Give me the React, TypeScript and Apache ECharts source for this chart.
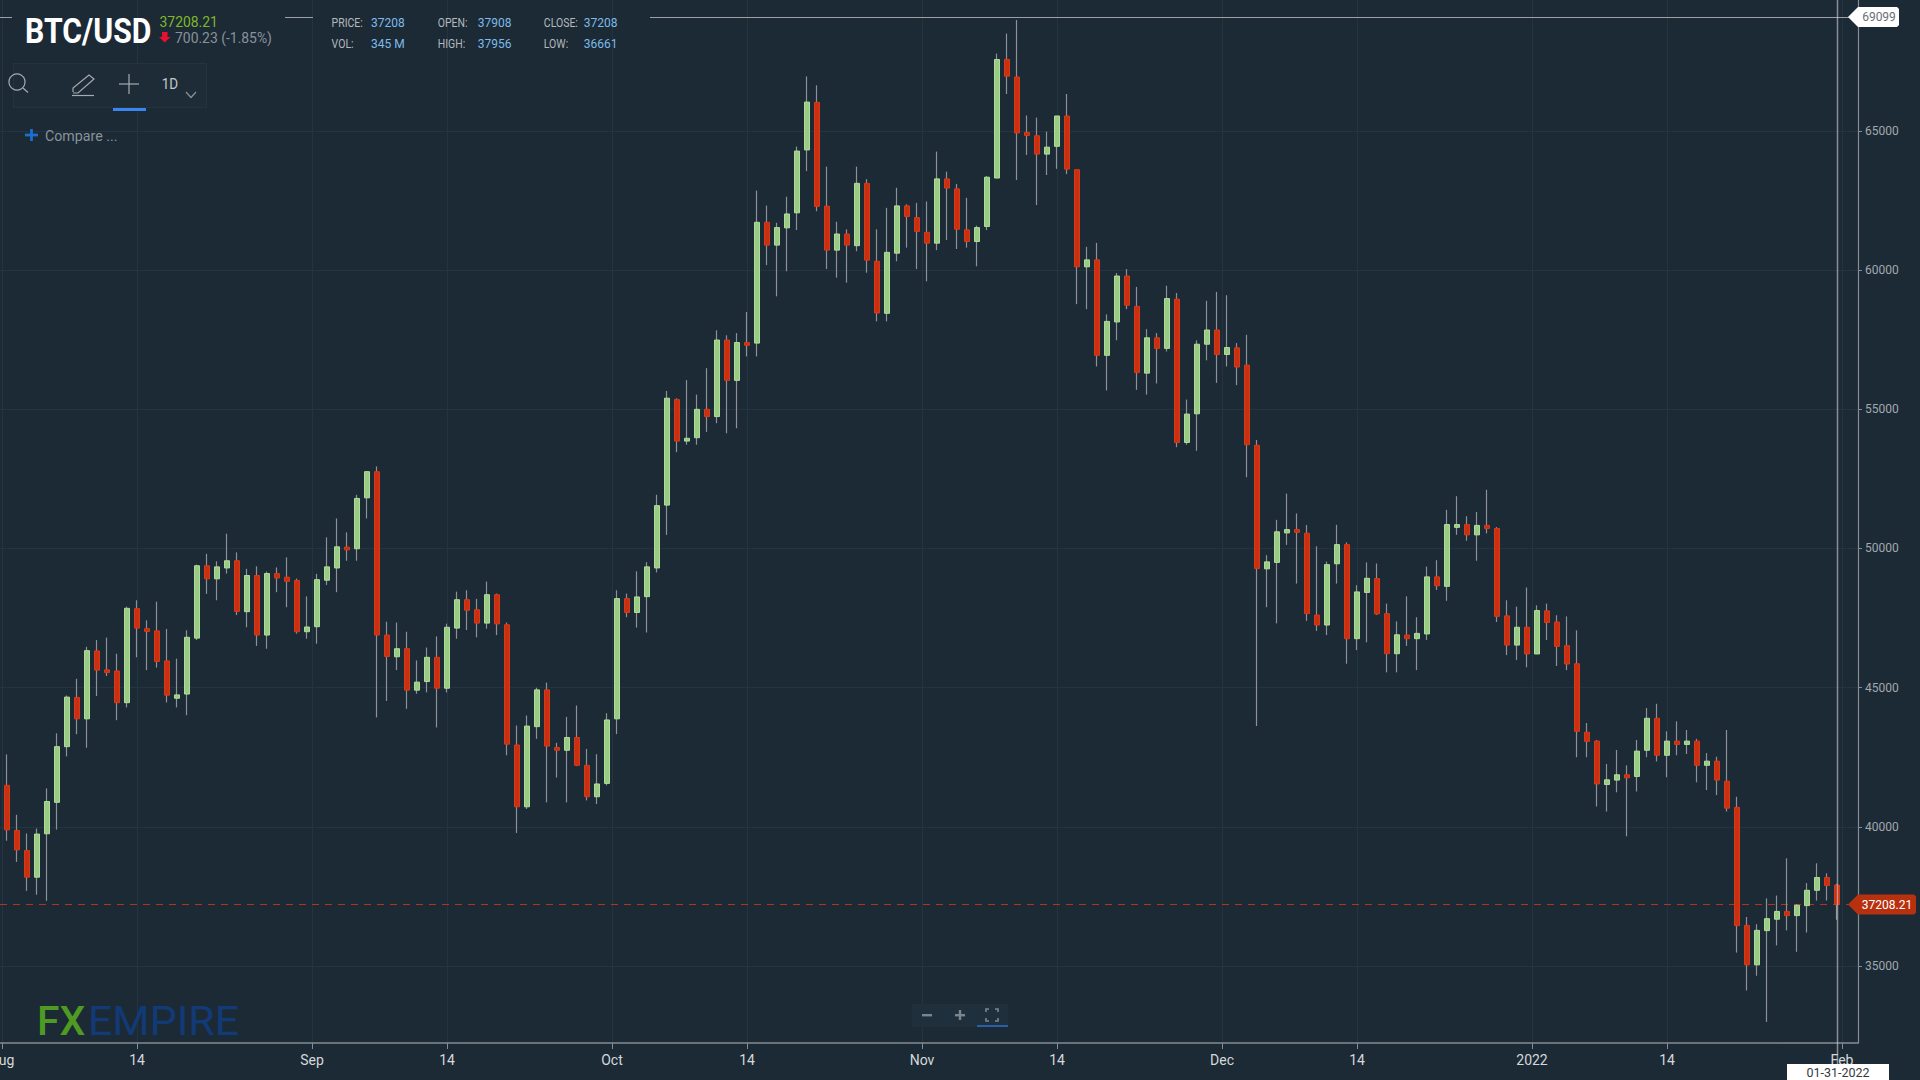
import React, { useEffect, useRef } from "react";
import * as echarts from "echarts";

const opens = [41490,39870,39150,38190,39750,40880,42880,44650,43880,46320,
45640,45600,44460,47840,47120,47040,45960,44620,44770,46780,
49380,48910,49300,49560,47730,49030,46890,49100,48970,48850,
47010,47190,48860,49300,50050,49990,51820,52760,46890,46110,
46400,44910,45220,46090,44980,47140,48160,47800,47320,48340,
47260,42940,40720,43600,44920,42850,42750,43210,42210,41080,
41560,43880,48200,47700,48270,49300,51560,55350,53860,53980,
55000,54740,57490,56040,57400,57380,61720,60900,61520,62060,
64320,66030,62300,60720,61300,60880,63120,60320,58450,60610,
62310,61890,61360,60970,63280,62920,61450,61030,61570,63310,
67570,66940,64950,64830,64170,64450,65540,63610,60120,60370,
56940,58140,59790,58700,56300,57570,57190,58960,53810,54840,
57340,57850,56970,57210,56590,53710,49270,49500,50560,50680,
50550,47610,47250,49450,50140,46760,48420,48920,47660,46220,
46890,46760,46930,48980,48640,50760,50860,50490,50830,50720,
47580,46530,47170,46210,47760,47360,46510,45860,43400,43080,
41520,41680,41870,41810,42750,43900,42570,43080,42960,43080,
42210,42360,41640,40700,36460,35040,36270,36680,36960,36810,
37170,37720,38180,37908];

const closes = [39890,39170,38190,39740,40910,42880,44660,43880,46330,45630,
45540,44460,47850,47140,47020,45940,44730,44740,46810,49380,
48910,49340,49560,47740,49030,46890,49100,48940,48820,47010,
47180,48880,49340,50060,49950,51800,52760,46890,46120,46400,
44910,45200,46090,44980,47170,48160,47780,47320,48340,47290,
42970,40720,43620,44920,42900,42750,43210,42210,41080,41540,
43840,48200,47700,48260,49340,51540,55400,53860,53960,55000,
54740,57490,56040,57400,57300,61720,60900,61530,62020,64280,
66040,62290,60720,61300,60900,63120,60360,58460,60640,62310,
61930,61390,60970,63280,62950,61470,61030,61530,63340,67570,
66970,64930,64840,64170,64420,65540,63630,60120,60370,56940,
58160,59790,58740,56320,57570,57190,58980,53810,54830,57340,
57850,56970,57220,56520,53730,49280,49520,50600,50680,50580,
47660,47250,49420,50140,46760,48440,48930,47650,46220,46900,
46760,46950,48980,48660,50860,50860,50490,50830,50720,47560,
46530,47170,46210,47770,47340,46480,45850,43430,43070,41540,
41690,41870,41760,42720,43900,42570,43080,42960,43080,42210,
42360,41680,40670,36450,35040,36280,36700,36960,36810,37180,
37720,38180,37890,37208];

const highs = [42600,40430,39760,39940,41380,43360,44720,45320,46470,46710,
46800,46220,47910,48140,47420,48090,47110,46040,47060,49420,
49810,49540,50530,49860,49270,49360,49170,49320,49680,48920,
48280,49090,50400,51080,50580,51930,52780,52950,47370,47340,
47010,45980,46440,46840,47300,48450,48500,48190,48810,48380,
47340,43640,44000,45000,45180,43020,43950,44360,42800,42610,
44080,48500,48380,49180,49510,51930,55660,55400,56050,55530,
56480,57840,57660,57740,58500,62860,62320,61700,62640,64440,
66960,66640,63720,61740,61470,63720,63270,61470,62240,62960,
62370,62420,62470,64260,63540,63100,62600,61600,63380,67780,
68500,68990,65560,65480,64980,65540,66330,63610,60840,60980,
58410,59900,60040,59400,57880,57740,59440,59180,55350,57480,
58900,59220,59100,57380,57680,53900,49760,51030,51970,51260,
50840,50080,49530,50850,50220,48680,49500,49460,48020,47380,
48280,47530,49350,49580,51390,51880,51160,51310,52110,50770,
48140,47910,48600,47960,48020,47600,47560,47060,43730,43120,
42260,42760,42210,43120,44270,44420,43430,43790,43480,43160,
42650,42520,43480,41080,36760,36500,37430,37530,38870,37220,
37980,38690,38330,37956];

const lows = [39500,38740,37700,37560,37340,39900,42530,43330,42840,44700,
45420,43830,44290,46090,45630,45720,44470,44290,44010,46710,
48370,48140,49100,47610,47170,46500,46400,48430,47890,46940,
46760,46580,48690,48430,49560,49560,51080,43930,44520,45630,
44240,44780,44830,43570,44830,46760,47070,46810,47120,46890,
42570,39780,40640,43160,40880,41770,40880,42180,40950,40820,
41490,43330,47530,47160,46980,49140,50490,53460,53730,53730,
54190,54500,54140,54320,56900,56900,60180,59060,59960,61440,
63560,62120,60040,59730,59550,60680,59910,58160,58160,60320,
60810,60040,59600,60720,61080,60760,60810,60140,61440,63310,
66330,63240,64140,62340,63420,63640,63450,58780,58600,56540,
55680,57480,58600,55700,55530,55930,57080,53640,53730,53510,
56760,55950,56540,55870,52560,43620,47890,47310,50130,48740,
47400,47040,46890,48740,45860,46350,46630,47610,45550,45550,
46500,45630,46710,48510,48120,50490,50280,49560,50540,47360,
46170,45990,45730,46210,46710,45780,45630,42500,42500,40730,
40550,41240,39660,41270,42500,42350,41780,42570,42620,41600,
41320,41140,40550,35480,34120,34650,32990,35740,36280,35510,
36200,37350,37350,36661];

// Days counted from 1 Aug 2021, and the text each tick shows.
const xTickDays = [0,13.5,31,44.5,61,74.5,92,105.5,122,135.5,153,166.5,184];
const xTickLabels = ["Aug","14","Sep","14","Oct","14","Nov","14","Dec","14","2022","14","Feb"];
const yTicks = [35000,40000,45000,50000,55000,60000,65000];

const lastPrice = 37208.21;
const peakPrice = 69099;

const quoteRows = [
  ["PRICE:", "37208", "OPEN:", "37908", "CLOSE:", "37208"],
  ["VOL:", "345 M", "HIGH:", "37956", "LOW:", "36661"],
];

const BG = "#1c2a36";
const GRID = "#243441";
const AXIS = "#868c92";
const FONT = "Roboto";

const txt = (text: string, x: number, y: number, font: string, fill: string, extra: any = {}, align = "left") => ({
  type: "text", x, y, z: 50, silent: true, ...extra,
  style: { text, font, fill, align, verticalAlign: "middle" },
});
const ln = (x1: number, y1: number, x2: number, y2: number, stroke: string, lineWidth = 1.2, z = 50) => ({
  type: "line", z, silent: true,
  shape: { x1, y1, x2, y2 }, style: { stroke, lineWidth },
});
const box = (x: number, y: number, width: number, height: number, fill: string, stroke?: string) => ({
  type: "rect", z: 40, silent: true,
  shape: { x, y, width, height }, style: { fill, stroke: stroke ?? "none", lineWidth: 1 },
});
const poly = (points: number[][], stroke: string, lineWidth = 1.2) => ({
  type: "polyline", z: 50, silent: true,
  shape: { points }, style: { stroke, lineWidth, fill: "none" },
});
const tag = (y: number, right: number, fill: string, label: string, labelFill: string, labelX: number) => [
  {
    type: "polygon", z: 60, silent: true,
    shape: { points: [[1848, y], [1858, y - 10], [right - 2, y - 10], [right, y - 8], [right, y + 8], [right - 2, y + 10], [1858, y + 10]] },
    style: { fill },
  },
  { ...txt(label, labelX, y, `12px ${FONT}`, labelFill, {}, "center"), z: 61 },
];

export default function App() {
  const ref = useRef<HTMLDivElement>(null);
  useEffect(() => {
    document.body.style.margin = "0";
    document.body.style.background = BG;
    const chart = echarts.init(ref.current!, undefined, { renderer: "svg" });
    const wicks = opens.map((o, i) => [i + 0.5, o, closes[i], lows[i], highs[i]]);
    const bodies = opens.map((o, i) => [i + 0.5, o, closes[i], Math.min(o, closes[i]), Math.max(o, closes[i])]);
    chart.setOption({
      animation: false,
      backgroundColor: BG,
      textStyle: { fontFamily: FONT },
      grid: { left: 0, right: 62, top: 0, bottom: 37, outerBoundsMode: "none" },
      xAxis: {
        type: "value",
        min: -0.2,
        max: 185.6,
        axisLine: { show: true, onZero: false, lineStyle: { color: AXIS, width: 1.5 } },
        axisTick: { show: true, length: 6, customValues: xTickDays, lineStyle: { color: AXIS } },
        splitLine: { show: true, lineStyle: { color: GRID, width: 1 } },
        axisLabel: {
          customValues: xTickDays,
          showMinLabel: true,
          showMaxLabel: true,
          hideOverlap: false,
          margin: 10,
          fontSize: 14,
          fontFamily: FONT,
          color: (v: number) => (xTickLabels[xTickDays.indexOf(v)] === "14" ? "#a3a8ad" : "#d5d8db"),
          formatter: (v: number) => xTickLabels[xTickDays.indexOf(v)] ?? "",
        },
      },
      yAxis: {
        type: "value",
        position: "right",
        scale: true,
        min: 32233,
        max: 69707,
        axisLine: { show: true, onZero: false, lineStyle: { color: AXIS, width: 1.2 } },
        axisTick: { show: true, length: 4, customValues: yTicks, lineStyle: { color: AXIS } },
        splitLine: { show: true, lineStyle: { color: GRID, width: 1 } },
        axisLabel: {
          customValues: yTicks,
          margin: 7,
          fontSize: 12,
          fontFamily: FONT,
          color: "#a3a8ad",
          formatter: (v: number) => String(v),
        },
      },
      series: [
        {
          type: "candlestick",
          name: "wicks",
          z: 2,
          barWidth: 1,
          silent: true,
          data: wicks,
          itemStyle: { color: "#8b9197", color0: "#8b9197", borderColor: "#8b9197", borderColor0: "#8b9197", borderWidth: 1.2 },
          markLine: {
            silent: true,
            z: 1,
            symbol: "none",
            label: { show: false },
            lineStyle: { color: "#b5331a", type: [7, 6], width: 1 },
            data: [{ yAxis: lastPrice }],
          },
        },
        {
          type: "candlestick",
          name: "BTC/USD",
          z: 3,
          barWidth: 5,
          silent: true,
          data: bodies,
          itemStyle: { color: "#9acb84", color0: "#c8310f", borderColor: "#afdc9a", borderColor0: "#d9391a", borderWidth: 1 },
          markLine: {
            silent: true,
            z: 4,
            symbol: "none",
            label: { show: false },
            lineStyle: { color: "#9aa0a5", type: "solid", width: 1 },
            data: [
              [{ coord: [-0.2, peakPrice] }, { coord: [1, peakPrice] }],
              [{ coord: [28.3, peakPrice] }, { coord: [31.1, peakPrice] }],
              [{ coord: [64.8, peakPrice] }, { coord: [185.6, peakPrice] }],
            ],
          },
        },
      ],
    });

    const lastY = chart.convertToPixel({ yAxisIndex: 0 }, lastPrice) as number;
    const peakY = chart.convertToPixel({ yAxisIndex: 0 }, peakPrice) as number;
    const quoteX = [331.6, 371, 437.7, 477.7, 543.8, 583.8];
    const quoteTexts = quoteRows.flatMap((row, r) =>
      row.map((t, c) =>
        txt(t, quoteX[c], r === 0 ? 23 : 44, `12.5px ${FONT}`, c % 2 === 0 ? "#b4b9bd" : "#7dbbe8", { scaleX: c % 2 === 0 ? 0.84 : 0.96 })
      )
    );
    const chromeGray = "#a6abb0";
    chart.setOption({
      graphic: {
        elements: [
          // crosshair
          ln(1837.5, 0, 1837.5, 1064, "rgba(205,210,215,0.6)", 1.5, 55),
          // header
          txt("BTC/USD", 25, 30.5, `700 36px ${FONT}`, "#ffffff", { scaleX: 0.84 }),
          txt("37208.21", 159.5, 21.5, `14.5px ${FONT}`, "#7fb82a", { scaleX: 0.96 }),
          { type: "polygon", z: 50, silent: true, style: { fill: "#e8112d" },
            shape: { points: [[162, 32], [167.5, 32], [167.5, 37], [170.5, 37], [164.7, 42.5], [159, 37], [162, 37]] } },
          txt("700.23 (-1.85%)", 175, 38, `14.5px ${FONT}`, "#8a9299", { scaleX: 0.96 }),
          ...quoteTexts,
          // toolbar
          box(13.5, 63.5, 193, 44, "#1e2c38", "#243340"),
          { type: "circle", z: 50, silent: true, shape: { cx: 17, cy: 82, r: 8 }, style: { stroke: chromeGray, fill: "none", lineWidth: 1.2 } },
          ln(23, 88, 28, 92.5, chromeGray),
          poly([[73, 92], [73, 88], [89, 75], [94, 79], [78, 93], [73, 93]], chromeGray),
          ln(72, 95.5, 94, 95.5, chromeGray),
          ln(119, 84, 139, 84, chromeGray),
          ln(129, 74, 129, 94, chromeGray),
          box(113, 108, 33, 3, "#3a86f0"),
          txt("1D", 170, 83.5, `15px ${FONT}`, "#c4c8cb", { scaleX: 0.9 }, "center"),
          poly([[186, 92], [191, 97.5], [196, 92]], "#8a9299"),
          // compare
          ln(25, 135, 38, 135, "#1a6fd0", 2.8),
          ln(31.5, 129, 31.5, 141, "#1a6fd0", 2.8),
          txt("Compare ...", 45, 136.5, `14.5px ${FONT}`, "#8a9299", { scaleX: 0.98 }),
          // logo
          txt("FX", 37, 1021.5, `500 40px ${FONT}`, "#4f9a23", { scaleX: 1.02 }),
          txt("EMPIRE", 88, 1021.5, `40px ${FONT}`, "#123a76", { scaleX: 1.07 }),
          // zoom control
          box(911.5, 1004, 97, 23, "#202f3c"),
          box(922, 1014, 10, 2.4, "#7d858c"),
          box(955, 1014, 10, 2.4, "#7d858c"),
          box(958.8, 1010, 2.4, 10, "#7d858c"),
          poly([[986, 1012], [986, 1009], [989, 1009]], "#7d858c", 1.6),
          poly([[995, 1009], [998, 1009], [998, 1012]], "#7d858c", 1.6),
          poly([[986, 1018], [986, 1021], [989, 1021]], "#7d858c", 1.6),
          poly([[995, 1021], [998, 1021], [998, 1018]], "#7d858c", 1.6),
          box(977, 1025, 31, 2, "#2a5ea8"),
          // price tags
          ...tag(lastY, 1916, "#b8310f", "37208.21", "#ffffff", 1887),
          ...tag(peakY, 1899, "#ffffff", "69099", "#6b6f73", 1879),
          // date box
          { ...box(1787, 1064, 102, 16, "#ffffff"), z: 58 },
          { ...txt("01-31-2022", 1838, 1072.5, `12.5px ${FONT}`, "#33393f", {}, "center"), z: 59 },
        ],
      },
    });
    return () => chart.dispose();
  }, []);
  return <div ref={ref} style={{ position: "fixed", left: 0, top: 0, width: 1920, height: 1080 }} />;
}
